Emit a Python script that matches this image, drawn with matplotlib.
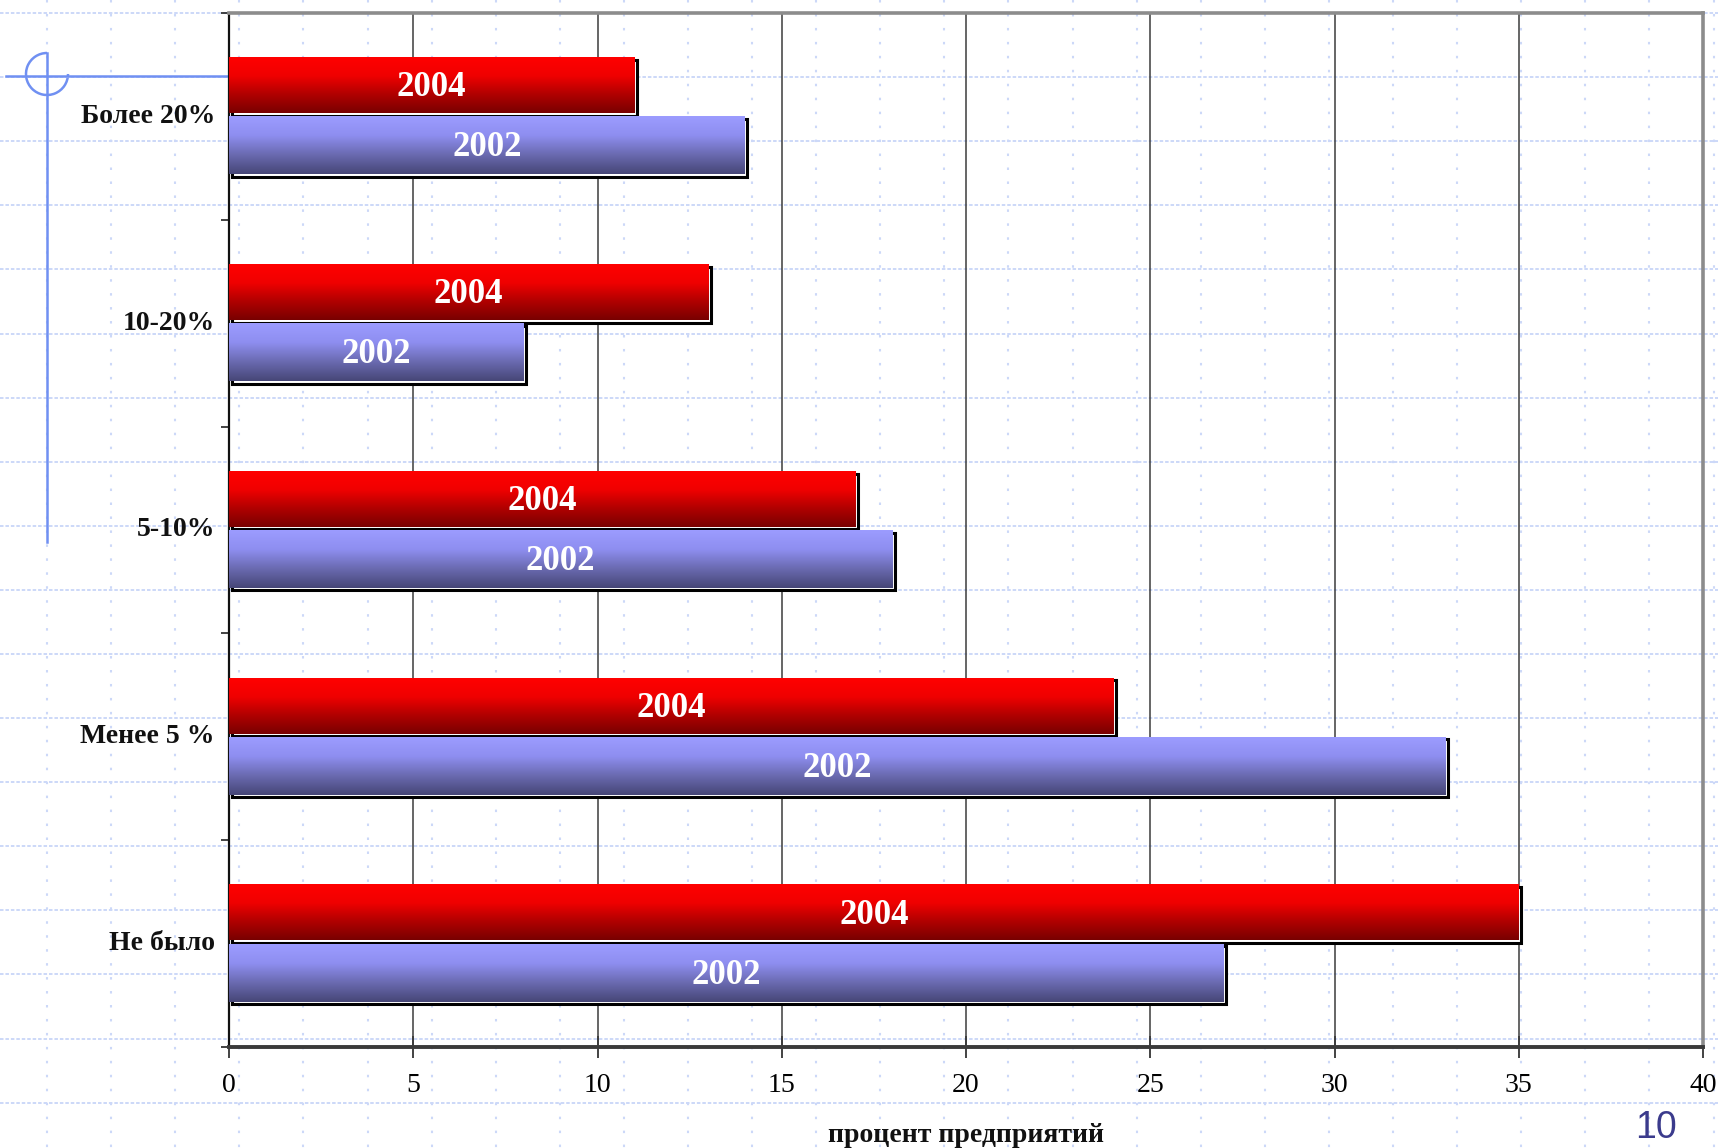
import numpy as np
import matplotlib

matplotlib.use("Agg")
import matplotlib.pyplot as plt
from matplotlib.colors import LinearSegmentedColormap
from matplotlib.patches import Rectangle, Arc
from matplotlib.transforms import offset_copy

categories = ["Более 20%", "10-20%", "5-10%", "Менее 5 %", "Не было"]
years = ["2004", "2002"]
share_2004 = [11, 13, 17, 24, 35]
share_2002 = [14, 8, 18, 33, 27]
x_ticks = [0, 5, 10, 15, 20, 25, 30, 35, 40]

SERIF = "Liberation Serif"
W, H = 1718, 1148
RED_MAP = LinearSegmentedColormap.from_list("red", ["#ff0000", "#f00000", "#b00000", "#780000"])
BLUE_MAP = LinearSegmentedColormap.from_list("blue", ["#9c9cff", "#8e8ef0", "#6a6ab0", "#464676"])
DOT = "#ccd8f8"
DECO = "#7090f2"

fig = plt.figure(figsize=(W / 100, H / 100), dpi=100)
fig.patch.set_facecolor("white")

# slide background: dotted grid and corner ornament, in pixel coordinates
bg = fig.add_axes([0, 0, 1, 1], zorder=0)
bg.set_xlim(0, W)
bg.set_ylim(H, 0)
bg.axis("off")
for gx in np.arange(47, W, 64.1):
    bg.plot([gx, gx], [0, H], color=DOT, lw=1.5, ls=(0, (1.2, 5.5)))
for gy in np.arange(13, H, 64.1):
    bg.plot([0, W], [gy, gy], color=DOT, lw=1.4, ls=(0, (1.8, 1.0)))
bg.plot([6, 229], [76, 76], color=DECO, lw=1.8)
bg.plot([47, 47], [53, 542], color=DECO, lw=1.8)
bg.add_patch(Arc((47, 74), 42, 42, theta1=0, theta2=270, color=DECO, lw=1.8))
bg.text(1656, 1146, "10", ha="center", va="bottom", fontsize=27,
        family="Liberation Sans", color="#3b3b8c")

# chart area
left, right, top, bottom = 229, 1703, 13, 1047
ax = fig.add_axes([left / W, 1 - bottom / H, (right - left) / W, (bottom - top) / H], zorder=1)
ax.set_facecolor("none")

grad = np.linspace(0, 1, 256).reshape(-1, 1)
series = [(share_2004, RED_MAP, -0.285, 0.27), (share_2002, BLUE_MAP, 0.0, 0.28)]
shadow = offset_copy(ax.transData, fig=fig, x=2.5, y=-2.5, units="dots")
label_tr = offset_copy(ax.transData, fig=fig, x=0, y=-2.5, units="dots")
for (vals, cmap, off, h), year in zip(series, years):
    for i, v in enumerate(vals):
        y0 = i + 0.5 + off
        y1 = y0 + h
        ax.add_patch(Rectangle((0, y0), v, h, facecolor="white", edgecolor="black",
                               lw=2.2, transform=shadow, zorder=3))
        ax.imshow(grad, cmap=cmap, extent=(0, v, y1, y0), origin="upper",
                  aspect="auto", zorder=4, interpolation="bicubic")
        ax.text(v / 2, (y0 + y1) / 2, year, ha="center", va="center", color="white",
                fontsize=25, fontweight="bold", family=SERIF, zorder=5,
                transform=label_tr)

ax.set_xlim(0, 40)
ax.set_ylim(5, 0)
ax.set_aspect("auto")

ax.set_xticks(x_ticks)
ax.set_xticklabels([str(t) for t in x_ticks], fontsize=20, family=SERIF)
ax.tick_params(axis="x", direction="inout", length=16, width=1.2, color="#222222", pad=11)
ax.set_yticks(range(6))
ax.set_yticklabels([])
ax.tick_params(axis="y", direction="out", length=6, width=1.2, color="#222222")
for i, name in enumerate(categories):
    ax.text(-0.38, i + 0.5, name, ha="right", va="center", fontsize=20,
            fontweight="bold", family=SERIF, color="#111111")

for t in x_ticks[1:-1]:
    ax.axvline(t, color="#3c3c3c", lw=1.1, zorder=2)

ax.spines["top"].set_color("#8c8c8c")
ax.spines["top"].set_linewidth(2.6)
ax.spines["right"].set_color("#8c8c8c")
ax.spines["right"].set_linewidth(2.6)
ax.spines["left"].set_color("#111111")
ax.spines["left"].set_linewidth(1.6)
ax.spines["bottom"].set_color("#3a3a3a")
ax.spines["bottom"].set_linewidth(2.8)

fig.text((left + right) / 2 / W, 1 - 1136 / H, "процент предприятий", ha="center",
         va="center", fontsize=20, fontweight="bold", family=SERIF, color="#111111")

fig.savefig("out.png", dpi=100)
